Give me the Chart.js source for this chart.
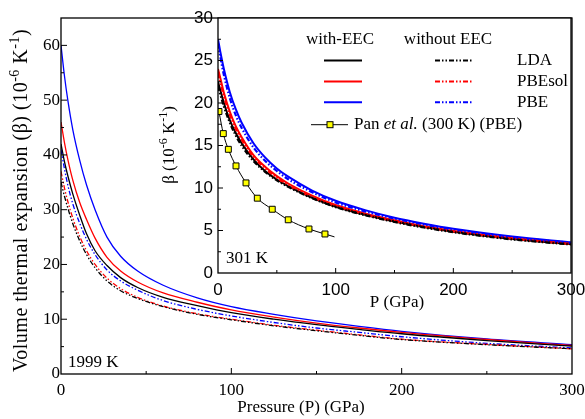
<!DOCTYPE html>
<html>
<head>
<meta charset="utf-8">
<script src="https://cdn.jsdelivr.net/npm/chart.js@4/dist/chart.umd.min.js"></script>
<style>
  body { margin: 0; background: #fff; }
  #wrap { position: relative; width: 585px; height: 419px; }
  canvas { position: absolute; top: 0; }
</style>
</head>
<body>
<div id="wrap">
  <canvas id="main" width="585" height="419" style="left:0"></canvas>
  <canvas id="inset" width="445" height="320" style="left:140px"></canvas>
</div>
<script>
// main panel, 1999 K
const pressureHot = [0, 2, 4, 7, 11, 15, 20, 27, 35, 45, 60, 80, 100, 125, 150, 175, 200, 250, 300];
const ldaEecHot = [42, 38.8, 36.2, 32.8, 29, 25.6, 22.5, 19.8, 17.6, 15.8, 14.0, 12.5, 11.2, 10.0, 9.0, 8.15, 7.35, 6.1, 5.1];
const pbesolEecHot = [46, 42.3, 39.2, 35.3, 31.3, 28.2, 24.8, 21.3, 18.8, 16.8, 14.8, 13.1, 11.7, 10.4, 9.3, 8.4, 7.6, 6.3, 5.2];
const pbeEecHot = [60, 54.5, 50, 44.5, 39, 34.5, 30, 25, 21.5, 18.8, 16.2, 13.9, 12.3, 10.9, 9.7, 8.7, 7.8, 6.4, 5.35];
const ldaNoEecHot = [35, 32.5, 30.3, 27.4, 24.3, 21.8, 19.4, 17.0, 15.2, 13.8, 12.3, 10.9, 9.9, 8.8, 7.9, 7.05, 6.3, 5.35, 4.6];
const pbesolNoEecHot = [37, 34, 31.5, 28.4, 25.1, 22.5, 20, 17.5, 15.6, 14.0, 12.4, 11.0, 10.0, 8.9, 8.0, 7.15, 6.35, 5.4, 4.6];
const pbeNoEecHot = [41, 37.5, 34.5, 31, 27.5, 24.6, 21.8, 19, 17, 15.3, 13.4, 11.8, 10.6, 9.4, 8.4, 7.6, 6.8, 5.6, 4.75];

// inset, 301 K
const pressureCold = [0, 2, 5, 10, 15, 20, 30, 40, 50, 60, 80, 100, 125, 150, 175, 200, 250, 300];
const pbeEecCold = [27.5, 26, 24, 21.3, 19.3, 17.7, 15.3, 13.6, 12.3, 11.3, 9.7, 8.5, 7.4, 6.5, 5.8, 5.2, 4.3, 3.6];
const pbeNoEecCold = [27, 25.4, 23.3, 20.6, 18.6, 17.1, 14.8, 13.2, 12.0, 11.0, 9.5, 8.3, 7.25, 6.4, 5.7, 5.1, 4.2, 3.55];
const pbesolEecCold = [24, 22.9, 21.2, 19.0, 17.3, 16.0, 13.9, 12.5, 11.4, 10.5, 9.1, 8.0, 7.0, 6.2, 5.5, 4.95, 4.1, 3.45];
const pbesolNoEecCold = [23.5, 22.4, 20.8, 18.6, 17.0, 15.7, 13.7, 12.3, 11.2, 10.3, 8.95, 7.9, 6.9, 6.1, 5.45, 4.9, 4.05, 3.4];
const ldaEecCold = [22.5, 21.5, 20.0, 18.0, 16.5, 15.3, 13.4, 12.0, 11.0, 10.2, 8.85, 7.8, 6.85, 6.05, 5.4, 4.85, 4.0, 3.4];
const ldaNoEecCold = [22, 21.0, 19.6, 17.7, 16.2, 15.0, 13.2, 11.9, 10.9, 10.1, 8.8, 7.75, 6.8, 6.0, 5.35, 4.8, 3.95, 3.35];

// Pan et al. (300 K)
const panPressure = [0.8, 4.5, 8.8, 15.3, 23.8, 33.4, 46.1, 59.7, 77.3, 90.9, 99];
const panBeta = [19.0, 16.4, 14.55, 12.6, 10.6, 8.8, 7.5, 6.26, 5.18, 4.59, 4.25];

const BLACK = '#000000', RED = '#ff0000', BLUE = '#0000ff';
const SERIF = 'Liberation Serif', SANS = 'Liberation Sans';
const DASHDOT = [5, 2, 1.5, 2, 1.5, 2];

function series(xs, ys, color, dash, width) {
  return {
    data: xs.map((x, i) => ({ x: x, y: ys[i] })),
    borderColor: color,
    borderWidth: width,
    borderDash: dash || [],
    pointRadius: 0,
    cubicInterpolationMode: 'monotone',
    fill: false
  };
}

// text with superscripts / italics, drawn centred (or left) at x,y
function richText(ctx, segs, x, y, size, family, angle, align, spacing) {
  const fontOf = s => (s.it ? 'italic ' : '') + (s.sup ? Math.round(size * 0.7) : size) + 'px "' + family + '"';
  ctx.save();
  ctx.translate(x, y);
  if (angle) ctx.rotate(angle);
  if (spacing) ctx.letterSpacing = spacing + 'px';
  let w = 0;
  segs.forEach(s => { ctx.font = fontOf(s); w += ctx.measureText(s.t).width; });
  let cx = align === 'left' ? 0 : -w / 2;
  ctx.fillStyle = '#000';
  ctx.textAlign = 'left';
  ctx.textBaseline = 'middle';
  segs.forEach(s => {
    ctx.font = fontOf(s);
    ctx.fillText(s.t, cx, s.sup ? -size * 0.35 : 0);
    cx += ctx.measureText(s.t).width;
  });
  ctx.restore();
}

// box round the plot area plus inward tick marks
function frameTicks(opts) {
  return {
    id: 'frameTicks',
    beforeDraw(chart) {
      if (!opts.fill) return;
      const a = chart.chartArea, ctx = chart.ctx;
      ctx.save();
      ctx.fillStyle = '#fff';
      ctx.fillRect(a.left, a.top, a.right - a.left, a.bottom - a.top);
      ctx.restore();
    },
    afterDraw(chart) {
      const { ctx, chartArea: a, scales: { x, y } } = chart;
      ctx.save();
      ctx.strokeStyle = '#000';
      ctx.lineWidth = 1.3;
      ctx.strokeRect(a.left, a.top, a.right - a.left, a.bottom - a.top);
      ctx.lineWidth = 1;
      ctx.beginPath();
      opts.xMajor.forEach(v => { const p = x.getPixelForValue(v); ctx.moveTo(p, a.bottom); ctx.lineTo(p, a.bottom - opts.major); });
      opts.xMinor.forEach(v => { const p = x.getPixelForValue(v); ctx.moveTo(p, a.bottom); ctx.lineTo(p, a.bottom - opts.minor); });
      opts.yMajor.forEach(v => { const p = y.getPixelForValue(v); ctx.moveTo(a.left, p); ctx.lineTo(a.left + opts.major, p); });
      opts.yMinor.forEach(v => { const p = y.getPixelForValue(v); ctx.moveTo(a.left, p); ctx.lineTo(a.left + opts.minor, p); });
      ctx.stroke();
      ctx.restore();
    }
  };
}

const mainDecor = {
  id: 'mainDecor',
  afterDraw(chart) {
    const ctx = chart.ctx;
    richText(ctx, [{ t: 'Volume thermal expansion (β) (10' }, { t: '-6', sup: true }, { t: ' K' }, { t: '-1', sup: true }, { t: ')' }],
      22, 200.5, 20, SERIF, -Math.PI / 2, null, 0.5);
    richText(ctx, [{ t: 'Pressure (P) (GPa)' }], 301, 408, 17, SERIF);
    richText(ctx, [{ t: '1999 K' }], 68, 363, 17, SERIF, 0, 'left');
  }
};

const insetDecor = {
  id: 'insetDecor',
  afterDraw(chart) {
    const ctx = chart.ctx;
    const ox = 140;
    richText(ctx, [{ t: 'β (10' }, { t: '-6', sup: true }, { t: ' K' }, { t: '-1', sup: true }, { t: ')' }],
      170 - ox, 145, 17, SERIF, -Math.PI / 2);
    richText(ctx, [{ t: 'P (GPa)' }], 397 - ox, 303, 17, SERIF);
    richText(ctx, [{ t: '301 K' }], 226 - ox, 259, 17, SERIF, 0, 'left');
    // legend
    richText(ctx, [{ t: 'with-EEC' }], 340 - ox, 40, 17, SERIF);
    richText(ctx, [{ t: 'without EEC' }], 448 - ox, 40, 17, SERIF);
    const rows = [['LDA', BLACK, 60.5], ['PBEsol', RED, 81.5], ['PBE', BLUE, 102.3]];
    ctx.save();
    ctx.lineWidth = 2;
    rows.forEach(r => {
      ctx.strokeStyle = r[1];
      ctx.setLineDash([]);
      ctx.beginPath(); ctx.moveTo(324 - ox, r[2]); ctx.lineTo(362 - ox, r[2]); ctx.stroke();
      ctx.setLineDash(DASHDOT);
      ctx.beginPath(); ctx.moveTo(435 - ox, r[2]); ctx.lineTo(473 - ox, r[2]); ctx.stroke();
    });
    ctx.setLineDash([]);
    ctx.lineWidth = 1;
    ctx.strokeStyle = BLACK;
    ctx.beginPath(); ctx.moveTo(311 - ox, 124.7); ctx.lineTo(348 - ox, 124.7); ctx.stroke();
    ctx.fillStyle = '#ffff00';
    ctx.fillRect(327 - ox, 121.7, 6, 6);
    ctx.strokeRect(327 - ox, 121.7, 6, 6);
    ctx.restore();
    rows.forEach(r => richText(ctx, [{ t: r[0] }], 517 - ox, r[2], 17, SERIF, 0, 'left'));
    richText(ctx, [{ t: 'Pan ' }, { t: 'et al.', it: true }, { t: ' (300 K) (PBE)' }], 354 - ox, 124.7, 17, SERIF, 0, 'left');
  }
};

function axis(min, max, step, width, height, pad, family, size, bounds) {
  return {
    type: 'linear', min: min, max: max,
    grid: { display: false, drawTicks: false },
    border: { display: false },
    ticks: { stepSize: step, padding: pad, color: '#000', includeBounds: bounds, font: { family: family, size: size } },
    afterFit: s => {
      if (width) s.width = width;
      if (height) s.height = height;
      s.paddingLeft = 0; s.paddingRight = 0; s.paddingTop = 0; s.paddingBottom = 0;
    }
  };
}

new Chart(document.getElementById('main'), {
  type: 'line',
  data: {
    datasets: [
      series(pressureHot, ldaNoEecHot, BLACK, DASHDOT, 1.3),
      series(pressureHot, pbesolNoEecHot, RED, DASHDOT, 1.3),
      series(pressureHot, pbeNoEecHot, BLUE, DASHDOT, 1.3),
      series(pressureHot, ldaEecHot, BLACK, null, 1.3),
      series(pressureHot, pbesolEecHot, RED, null, 1.3),
      series(pressureHot, pbeEecHot, BLUE, null, 1.3)
    ]
  },
  options: {
    responsive: false,
    animation: false,
    layout: { padding: { top: 18, right: 13, left: 0, bottom: 0 } },
    plugins: { legend: { display: false }, tooltip: { enabled: false } },
    scales: {
      x: axis(0, 300, 100, 0, 45, 6, SERIF, 17, true),
      y: axis(0, 65, 10, 61, 0, 1, SERIF, 17, false)
    }
  },
  plugins: [frameTicks({
    xMajor: [100, 200], xMinor: [50, 150, 250],
    yMajor: [10, 20, 30, 40, 50, 60], yMinor: [5, 15, 25, 35, 45, 55],
    major: 6, minor: 3
  }), mainDecor]
});

new Chart(document.getElementById('inset'), {
  type: 'line',
  data: {
    datasets: [
      series(pressureCold, ldaNoEecCold, BLACK, DASHDOT, 2.2),
      series(pressureCold, pbesolNoEecCold, RED, DASHDOT, 2.2),
      series(pressureCold, pbeNoEecCold, BLUE, DASHDOT, 2.2),
      series(pressureCold, ldaEecCold, BLACK, null, 2),
      series(pressureCold, pbesolEecCold, RED, null, 2),
      series(pressureCold, pbeEecCold, BLUE, null, 2),
      {
        data: panPressure.map((x, i) => ({ x: x, y: panBeta[i] })),
        borderColor: BLACK,
        borderWidth: 1,
        pointStyle: 'rect',
        pointRadius: panPressure.map((x, i) => i === panPressure.length - 1 ? 0 : 4.2),
        pointBackgroundColor: '#ffff00',
        pointBorderColor: BLACK,
        pointBorderWidth: 1,
        cubicInterpolationMode: 'monotone',
        fill: false
      }
    ]
  },
  options: {
    responsive: false,
    animation: false,
    layout: { padding: { top: 18, right: 14, left: 0, bottom: 0 } },
    plugins: { legend: { display: false }, tooltip: { enabled: false } },
    scales: {
      x: axis(0, 300, 100, 0, 47, 7, SANS, 17, true),
      y: axis(0, 30, 5, 78, 0, 5, SANS, 17, true)
    }
  },
  plugins: [frameTicks({
    fill: true,
    xMajor: [100, 200], xMinor: [50, 150, 250],
    yMajor: [5, 10, 15, 20, 25], yMinor: [2.5, 7.5, 12.5, 17.5, 22.5, 27.5],
    major: 5, minor: 3
  }), insetDecor]
});
</script>
</body>
</html>
